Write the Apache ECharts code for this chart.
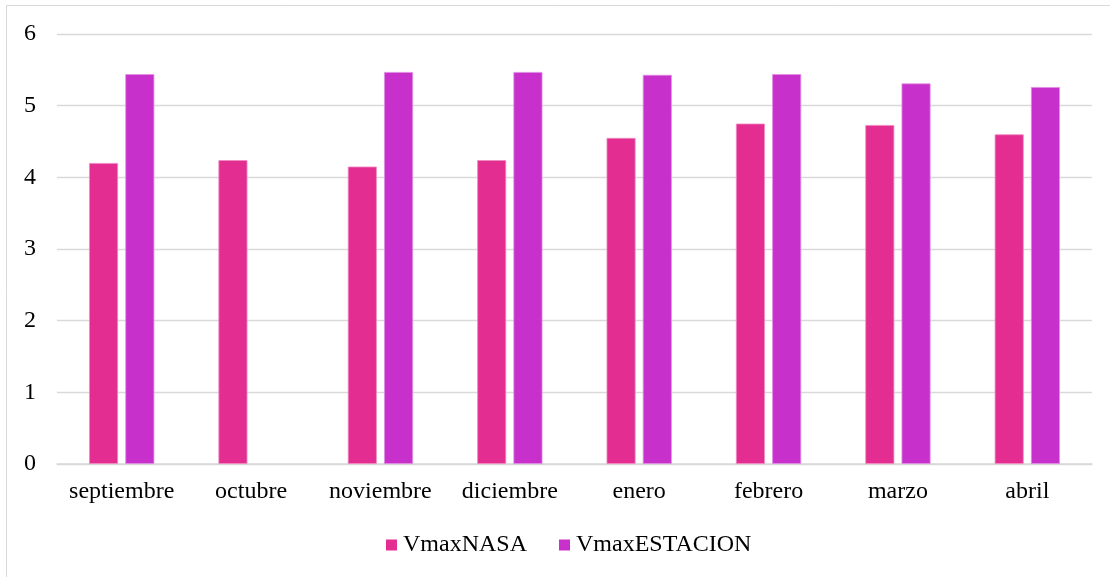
<!DOCTYPE html>
<html>
<head>
<meta charset="utf-8">
<script src="https://cdn.jsdelivr.net/npm/echarts@6/dist/echarts.min.js"></script>
<style>
html,body{margin:0;padding:0;background:#fff;}
#main{width:1110px;height:577px;}
</style>
</head>
<body>
<div id="main"></div>
<script>
const categories = ['septiembre','octubre','noviembre','diciembre','enero','febrero','marzo','abril'];
const vmaxNASA = [4.20, 4.24, 4.15, 4.24, 4.55, 4.75, 4.73, 4.60];
const vmaxESTACION = [5.44, null, 5.47, 5.47, 5.43, 5.44, 5.31, 5.26];
const yTicks = [0, 1, 2, 3, 4, 5, 6];

const font = '"Liberation Serif", "Times New Roman", serif';
const chart = echarts.init(document.getElementById('main'), null, {renderer: 'canvas'});
chart.setOption({
  animation: false,
  backgroundColor: '#fff',
  textStyle: {fontFamily: font},
  graphic: [{
    type: 'rect',
    shape: {x: 6.5, y: 5.5, width: 1200, height: 700},
    style: {fill: 'none', stroke: '#D9D9D9', lineWidth: 1}
  }],
  grid: {left: 57, right: 18, top: 34, bottom: 113},
  legend: {
    bottom: 15,
    left: 381,
    itemWidth: 11,
    itemHeight: 11,
    itemGap: 32,
    icon: 'rect',
    itemStyle: {borderWidth: 0},
    textStyle: {fontFamily: font, fontSize: 24, color: '#000', padding: [0, 0, 0, 1]},
    data: ['VmaxNASA', 'VmaxESTACION']
  },
  xAxis: {
    type: 'category',
    data: categories,
    axisLine: {lineStyle: {color: '#D9D9D9', width: 1.5}},
    axisTick: {show: false},
    axisLabel: {fontFamily: font, fontSize: 24, color: '#000', margin: 16, interval: 0}
  },
  yAxis: {
    type: 'value',
    min: yTicks[0],
    max: yTicks[yTicks.length - 1],
    interval: 1,
    axisLine: {show: false},
    axisTick: {show: false},
    splitLine: {lineStyle: {color: '#D9D9D9', width: 1.3}},
    axisLabel: {fontFamily: font, fontSize: 24, color: '#000', margin: 21}
  },
  series: [
    {
      name: 'VmaxNASA',
      type: 'bar',
      data: vmaxNASA,
      barWidth: 29,
      barGap: '25%',
      itemStyle: {color: '#E32D91', borderColor: '#F08AC2', borderWidth: 0.8}
    },
    {
      name: 'VmaxESTACION',
      type: 'bar',
      data: vmaxESTACION,
      barWidth: 29,
      barGap: '25%',
      itemStyle: {color: '#C830CC', borderColor: '#E08BE3', borderWidth: 0.8}
    }
  ]
});
</script>
</body>
</html>
